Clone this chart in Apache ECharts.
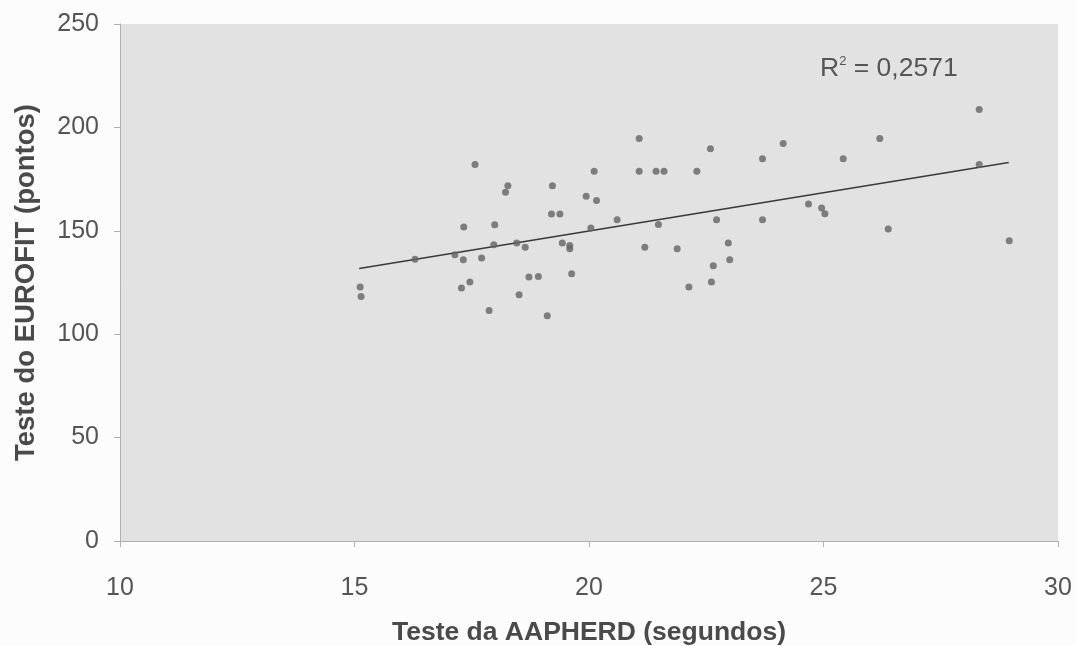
<!DOCTYPE html>
<html><head><meta charset="utf-8">
<script src="https://cdn.jsdelivr.net/npm/echarts@6/dist/echarts.min.js"></script>
<style>html,body{margin:0;padding:0;background:#fcfcfc;}#c{width:1076px;height:646px;}</style>
</head><body><div id="c"></div>
<script>
const xValues = [15.12,15.14,16.29,17.14,17.32,17.33,17.57,17.71,17.46,17.28,17.87,17.99,17.97,18.27,18.22,18.46,18.64,18.51,18.72,18.92,19.11,19.22,19.20,19.38,19.43,19.59,19.59,19.63,19.94,20.16,20.11,20.04,20.60,21.07,21.07,21.43,21.60,21.48,21.19,21.88,22.13,22.30,22.59,24.14,23.70,25.42,26.20,28.32,28.32,28.96,26.38,24.68,24.96,25.03,23.70,22.72,22.97,23.00,22.65,22.61];
const yValues = [122.8,118.2,136.3,138.4,136.0,151.8,182.0,136.8,125.2,122.3,111.5,152.9,143.3,171.8,168.6,144.1,142.0,119.1,127.6,127.9,108.9,171.8,158.1,158.1,144.1,142.9,141.3,129.2,166.7,164.7,178.8,151.4,155.4,194.6,178.8,178.8,178.8,153.0,142.0,141.3,122.8,178.8,189.7,192.2,184.9,184.9,194.6,208.6,182.0,145.2,150.9,163.0,161.0,158.3,155.4,155.4,144.1,136.0,133.1,125.2];
const trendX = [15.1, 28.95];
const trendY = [131.8, 183.0];
const xTicks = [10,15,20,25,30];
const yTicks = [0,50,100,150,200,250];
const xTitle = 'Teste da AAPHERD (segundos)';
const yTitle = 'Teste do EUROFIT (pontos)';
const r2Text = '0,2571';

const chart = echarts.init(document.getElementById('c'));
const font = 'Liberation Sans, Arial, sans-serif';
chart.setOption({
  backgroundColor: '#fcfcfc',
  animation: false,
  grid: {left: 120, right: 18, top: 24, bottom: 105, show: true, backgroundColor: '#e2e2e3', borderWidth: 0, containLabel: false, outerBoundsMode: 'none'},
  xAxis: {
    type: 'value', min: xTicks[0], max: xTicks[xTicks.length-1], interval: 5,
    splitLine: {show: false},
    axisLine: {show: true, lineStyle: {color: '#b0b0b0', width: 1}},
    axisTick: {show: true, length: 6, lineStyle: {color: '#b0b0b0'}},
    axisLabel: {margin: 35, fontSize: 25, color: '#555', fontFamily: font},
    name: xTitle, nameLocation: 'middle', nameGap: 78,
    nameTextStyle: {fontSize: 26.5, fontWeight: 'bold', color: '#4a4a4a', fontFamily: font}
  },
  yAxis: {
    type: 'value', min: yTicks[0], max: yTicks[yTicks.length-1], interval: 50,
    splitLine: {show: false},
    axisLine: {show: true, lineStyle: {color: '#b0b0b0', width: 1}},
    axisTick: {show: true, length: 6, lineStyle: {color: '#b0b0b0'}},
    axisLabel: {margin: 21, fontSize: 25, color: '#555', fontFamily: font, padding: [6,0,0,0]},
    name: yTitle, nameLocation: 'middle', nameGap: 80, nameRotate: 90,
    nameTextStyle: {fontSize: 27.5, fontWeight: 'bold', color: '#4a4a4a', fontFamily: font}
  },
  series: [
    {
      type: 'scatter', symbol: 'circle', symbolSize: 7,
      itemStyle: {color: '#646464'},
      data: xValues.map((x, i) => [x, yValues[i]]),
      z: 3
    },
    {
      type: 'line', symbol: 'none',
      lineStyle: {color: '#3a3a3a', width: 1.5},
      data: trendX.map((x, i) => [x, trendY[i]]),
      z: 2
    }
  ],
  graphic: [{
    type: 'text', left: 820, top: 55,
    style: {
      text: '{b|R}{s|2}{b| = ' + r2Text + '}',
      rich: {
        b: {fontSize: 26.5, fill: '#555', fontFamily: font, verticalAlign: 'bottom'},
        s: {fontSize: 13, fill: '#555', fontFamily: font, verticalAlign: 'top', padding: [0,0,14,0]}
      }
    }
  }]
});
</script></body></html>
